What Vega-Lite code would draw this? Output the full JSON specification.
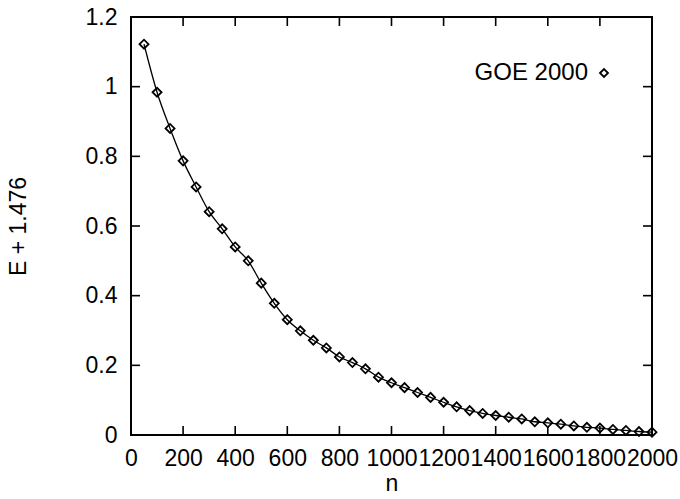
{
  "$schema": "https://vega.github.io/schema/vega-lite/v6.json",
  "autosize": "none",
  "width": 521,
  "height": 418,
  "padding": {"left": 131, "top": 17, "right": 28, "bottom": 64},
  "background": "white",
  "datasets": {
    "main": [
      {"n": 50, "E": 1.122}, {"n": 100, "E": 0.984}, {"n": 150, "E": 0.880}, {"n": 200, "E": 0.787},
      {"n": 250, "E": 0.712}, {"n": 300, "E": 0.641}, {"n": 350, "E": 0.592}, {"n": 400, "E": 0.540},
      {"n": 450, "E": 0.500}, {"n": 500, "E": 0.436}, {"n": 550, "E": 0.378}, {"n": 600, "E": 0.331},
      {"n": 650, "E": 0.299}, {"n": 700, "E": 0.272}, {"n": 750, "E": 0.250}, {"n": 800, "E": 0.224},
      {"n": 850, "E": 0.208}, {"n": 900, "E": 0.190}, {"n": 950, "E": 0.166}, {"n": 1000, "E": 0.150},
      {"n": 1050, "E": 0.136}, {"n": 1100, "E": 0.122}, {"n": 1150, "E": 0.108}, {"n": 1200, "E": 0.094},
      {"n": 1250, "E": 0.081}, {"n": 1300, "E": 0.070}, {"n": 1350, "E": 0.062}, {"n": 1400, "E": 0.056},
      {"n": 1450, "E": 0.051}, {"n": 1500, "E": 0.046}, {"n": 1550, "E": 0.038}, {"n": 1600, "E": 0.035},
      {"n": 1650, "E": 0.031}, {"n": 1700, "E": 0.026}, {"n": 1750, "E": 0.022}, {"n": 1800, "E": 0.020},
      {"n": 1850, "E": 0.016}, {"n": 1900, "E": 0.013}, {"n": 1950, "E": 0.010}, {"n": 2000, "E": 0.008}
    ],
    "xticks": [{"t": 200}, {"t": 400}, {"t": 600}, {"t": 800}, {"t": 1000}, {"t": 1200}, {"t": 1400}, {"t": 1600}, {"t": 1800}],
    "yticks": [{"t": 0.2}, {"t": 0.4}, {"t": 0.6}, {"t": 0.8}, {"t": 1.0}]
  },
  "data": {"name": "main"},
  "layer": [
    {
      "mark": {"type": "line", "color": "black", "strokeWidth": 1.3, "interpolate": "monotone"},
      "encoding": {
        "x": {"field": "n", "type": "quantitative",
              "scale": {"domain": [0, 2000], "nice": false, "zero": false},
              "axis": {"orient": "bottom", "values": [0,200,400,600,800,1000,1200,1400,1600,1800,2000],
                       "format": "d", "title": "n", "titlePadding": 2, "labelPadding": 12,
                       "ticks": false, "domain": false}},
        "y": {"field": "E", "type": "quantitative",
              "scale": {"domain": [0, 1.2], "nice": false, "zero": false},
              "axis": {"orient": "left", "values": [0,0.2,0.4,0.6,0.8,1,1.2],
                       "format": "~f", "title": "E + 1.476", "titlePadding": 55, "labelPadding": 14,
                       "ticks": false, "domain": false}}
      }
    },
    {
      "mark": {"type": "point", "shape": "diamond", "filled": false, "color": "black", "opacity": 1, "strokeWidth": 1.8, "size": 81},
      "encoding": {
        "x": {"field": "n", "type": "quantitative", "axis": null},
        "y": {"field": "E", "type": "quantitative", "axis": null},
        "shape": {"datum": "GOE 2000", "type": "nominal",
                  "scale": {"range": ["diamond"]},
                  "legend": {"orient": "none", "legendX": 461, "legendY": 44, "title": null,
                             "labelAlign": "right", "labelOffset": -28, "labelFontSize": 24,
                             "labelFont": "Liberation Sans", "labelColor": "black",
                             "symbolSize": 64, "symbolStrokeColor": "black", "symbolFillColor": "white",
                             "symbolOpacity": 1, "symbolStrokeWidth": 1.8, "padding": 0}}
      }
    },
    {
      "data": {"name": "xticks"},
      "mark": {"type": "tick", "orient": "vertical", "size": 18, "thickness": 1.6, "color": "black", "opacity": 1, "clip": true},
      "encoding": {
        "x": {"field": "t", "type": "quantitative", "axis": null},
        "y": {"datum": 0, "type": "quantitative", "axis": null}
      }
    },
    {
      "data": {"name": "xticks"},
      "mark": {"type": "tick", "orient": "vertical", "size": 18, "thickness": 1.6, "color": "black", "opacity": 1, "clip": true},
      "encoding": {
        "x": {"field": "t", "type": "quantitative", "axis": null},
        "y": {"datum": 1.2, "type": "quantitative", "axis": null}
      }
    },
    {
      "data": {"name": "yticks"},
      "mark": {"type": "tick", "orient": "horizontal", "size": 18, "thickness": 1.6, "color": "black", "opacity": 1, "clip": true},
      "encoding": {
        "y": {"field": "t", "type": "quantitative", "axis": null},
        "x": {"datum": 0, "type": "quantitative", "axis": null}
      }
    },
    {
      "data": {"name": "yticks"},
      "mark": {"type": "tick", "orient": "horizontal", "size": 18, "thickness": 1.6, "color": "black", "opacity": 1, "clip": true},
      "encoding": {
        "y": {"field": "t", "type": "quantitative", "axis": null},
        "x": {"datum": 2000, "type": "quantitative", "axis": null}
      }
    }
  ],
  "resolve": {"axis": {"x": "independent", "y": "independent"}},
  "config": {
    "view": {"stroke": "black", "strokeWidth": 2, "fill": null},
    "font": "Liberation Sans",
    "axis": {
      "grid": false, "labelColor": "black", "labelFont": "Liberation Sans",
      "labelFontSize": 23, "labelOverlap": false, "labelFlush": false, "titleFont": "Liberation Sans",
      "titleFontSize": 23, "titleFontWeight": "normal", "titleColor": "black"
    }
  }
}
